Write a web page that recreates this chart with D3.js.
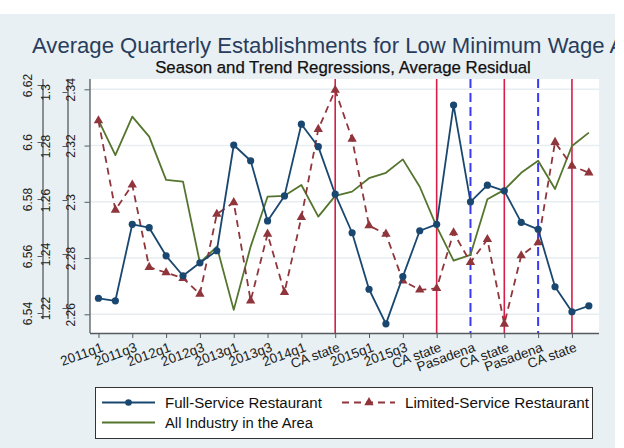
<!DOCTYPE html>
<html>
<head>
<meta charset="utf-8">
<script src="https://cdn.jsdelivr.net/npm/d3@7"></script>
<style>
  html, body { margin: 0; padding: 0; background: #ffffff; }
  svg { display: block; font-family: "Liberation Sans", Arial, sans-serif; }
</style>
</head>
<body>
<svg id="chart" width="624" height="448"></svg>
<script>
// Quarters 2011q1 .. 2018q2
const quarters = [
  "2011q1","2011q2","2011q3","2011q4","2012q1","2012q2","2012q3","2012q4",
  "2013q1","2013q2","2013q3","2013q4","2014q1","2014q2","2014q3","2014q4",
  "2015q1","2015q2","2015q3","2015q4","2016q1","2016q2","2016q3","2016q4",
  "2017q1","2017q2","2017q3","2017q4","2018q1","2018q2"
];

// x-axis tick labels (every second quarter); policy dates replace the quarter name
const tickIndex = [0, 2, 4, 6, 8, 10, 12, 14, 16, 18, 20, 22, 24, 26, 28];
const tickLabels = ["2011q1","2011q3","2012q1","2012q3","2013q1","2013q3","2014q1",
  "CA state","2015q1","2015q3","CA state","Pasadena","CA state","Pasadena","CA state"];

// minimum wage increases (quarter index)
const caStateChanges = [14, 20, 24, 28];
const pasadenaChanges = [22, 26];

// average residuals, log establishments
const fullService = [
  2.2657, 2.2648, 2.2920, 2.2908, 2.2808, 2.2737, 2.2783, 2.2826, 2.3202, 2.3146,
  2.2932, 2.3021, 2.3276, 2.3196, 2.3027, 2.2890, 2.2689, 2.2566, 2.2734, 2.2897,
  2.2920, 2.3344, 2.3000, 2.3059, 2.3039, 2.2927, 2.2902, 2.2698, 2.2609, 2.2630
];
const limitedService = [
  1.2894, 1.2563, 1.2656, 1.2351, 1.2331, 1.2310, 1.2252, 1.2548, 1.2591, 1.2227,
  1.2474, 1.2258, 1.2536, 1.2862, 1.3007, 1.2826, 1.2505, 1.2474, 1.2301, 1.2267,
  1.2273, 1.2479, 1.2369, 1.2454, 1.2141, 1.2394, 1.2442, 1.2814, 1.2726, 1.2701
];
const allIndustry = [
  6.6077, 6.5954, 6.6089, 6.6019, 6.5867, 6.5861, 6.5576, 6.5633, 6.5411, 6.5633,
  6.5808, 6.5811, 6.5849, 6.5738, 6.5811, 6.5826, 6.5873, 6.5892, 6.5939, 6.5843,
  6.5703, 6.5584, 6.5604, 6.5799, 6.5832, 6.5892, 6.5934, 6.5835, 6.5986, 6.6033
];

const fullTicks = [2.26, 2.28, 2.30, 2.32, 2.34];
const limitedTicks = [1.22, 1.24, 1.26, 1.28, 1.30];
const allTicks = [6.54, 6.56, 6.58, 6.60, 6.62];

const svg = d3.select("#chart");
const W = 624, H = 448;
const plot = { left: 90, right: 599, top: 79, bottom: 333 };

const colFull = "#1a476f", colLim = "#90353b", colAll = "#55752f";
const colCA = "#d81e48", colPas = "#3a3af2", bg = "#e9f0f3", axisCol = "#555a5e";
const font = '"Liberation Sans", Arial, sans-serif';

// graph background (clipped on the right edge)
svg.append("rect").attr("x", 0).attr("y", 14).attr("width", 615).attr("height", H - 14).attr("fill", bg);
svg.append("clipPath").attr("id", "gclip").append("rect").attr("x", 0).attr("y", 0).attr("width", 615).attr("height", H);

const x = d3.scaleLinear().domain([-0.5, 29.6]).range([plot.left, plot.right]);
const yFull = d3.scaleLinear().domain([2.26, 2.34]).range([314.3, 89.3]);
const yLim = d3.scaleLinear().domain([1.22, 1.30]).range([308, 92]);
const yAll = d3.scaleLinear().domain([6.54, 6.62]).range([313, 85]);

// fit text to a given width by adjusting font size
function fitText(sel, width) {
  const fs = parseFloat(sel.attr("font-size"));
  const w = sel.node().getComputedTextLength();
  sel.attr("font-size", (fs * width / w).toFixed(2));
  return sel;
}

// titles
const g = svg.append("g").attr("clip-path", "url(#gclip)");
const title = g.append("text").attr("x", 32).attr("y", 53).attr("font-size", 20)
  .attr("fill", "#283d5c").text("Average Quarterly Establishments for Low Minimum Wage ");
fitText(title, 573);
title.text("Average Quarterly Establishments for Low Minimum Wage A");

const sub = g.append("text").attr("x", 343).attr("y", 73).attr("text-anchor", "middle")
  .attr("font-size", 14).attr("fill", "#111").attr("stroke", "#111").attr("stroke-width", 0.25)
  .text("Season and Trend Regressions, Average Residual");
fitText(sub, 376);

// plot region
svg.append("rect").attr("x", plot.left).attr("y", plot.top)
  .attr("width", plot.right - plot.left).attr("height", plot.bottom - plot.top).attr("fill", "#ffffff");

// horizontal grid lines
svg.append("g").selectAll("line").data(fullTicks).join("line")
  .attr("x1", plot.left).attr("x2", plot.right)
  .attr("y1", d => yFull(d)).attr("y2", d => yFull(d))
  .attr("stroke", "#e6eef1").attr("stroke-width", 1.5);

// policy change lines
svg.append("g").selectAll("line").data(caStateChanges).join("line")
  .attr("x1", d => x(d)).attr("x2", d => x(d)).attr("y1", plot.top).attr("y2", plot.bottom)
  .attr("stroke", colCA).attr("stroke-width", 1.6);
svg.append("g").selectAll("line").data(pasadenaChanges).join("line")
  .attr("x1", d => x(d)).attr("x2", d => x(d)).attr("y1", plot.top).attr("y2", plot.bottom)
  .attr("stroke", colPas).attr("stroke-width", 2).attr("stroke-dasharray", "9,5");

// series
const idx = d3.range(quarters.length);
const lineOf = (arr, y) => d3.line().x(i => x(i)).y(i => y(arr[i]))(idx);

svg.append("path").attr("d", lineOf(allIndustry, yAll)).attr("fill", "none")
  .attr("stroke", colAll).attr("stroke-width", 1.8).attr("stroke-linejoin", "round");

svg.append("path").attr("d", lineOf(limitedService, yLim)).attr("fill", "none")
  .attr("stroke", colLim).attr("stroke-width", 1.8).attr("stroke-dasharray", "7,5");
const tri = d3.symbol().type(d3.symbolTriangle).size(38);
svg.append("g").selectAll("path").data(idx).join("path")
  .attr("d", tri).attr("transform", i => `translate(${x(i)},${yLim(limitedService[i])})`)
  .attr("fill", colLim);

svg.append("path").attr("d", lineOf(fullService, yFull)).attr("fill", "none")
  .attr("stroke", colFull).attr("stroke-width", 1.8).attr("stroke-linejoin", "round");
svg.append("g").selectAll("circle").data(idx).join("circle")
  .attr("cx", i => x(i)).attr("cy", i => yFull(fullService[i])).attr("r", 3.6)
  .attr("fill", colFull);

// x axis
const xAxis = d3.axisBottom(x).tickValues(tickIndex).tickSize(5).tickSizeOuter(0)
  .tickFormat((d, i) => tickLabels[i]);
const gx = svg.append("g").attr("transform", `translate(0,${plot.bottom})`).call(xAxis);
gx.select(".domain").attr("stroke", axisCol).attr("stroke-width", 1.3)
  .attr("d", `M${plot.left},0.5H${plot.right}`);
gx.selectAll(".tick line").attr("stroke", axisCol);
gx.selectAll(".tick text")
  .attr("font-size", 13.5).attr("fill", "#222").attr("font-family", font)
  .attr("text-anchor", "end").attr("dy", null).attr("y", 0)
  .attr("transform", "translate(5,18) rotate(-20)");

// three stacked y axes on the left
function yAxisAt(scale, ticks, xPos, labelOffset) {
  const ax = d3.axisLeft(scale).tickValues(ticks).tickSize(5).tickSizeOuter(0)
    .tickFormat(d3.format("~g"));
  const ga = svg.append("g").attr("transform", `translate(${xPos},0)`).call(ax);
  ga.select(".domain").attr("stroke", axisCol).attr("stroke-width", 1.3)
    .attr("d", `M0.5,${plot.top}V${plot.bottom - 14}`);
  ga.selectAll(".tick line").attr("stroke", axisCol);
  ga.selectAll(".tick text").attr("font-size", 12).attr("fill", "#222")
    .attr("font-family", font)
    .attr("x", null).attr("dy", null).attr("text-anchor", "middle")
    .attr("transform", `translate(${-labelOffset},0) rotate(-90)`);
  return ga;
}
yAxisAt(yAll, allTicks, 42.5, 11);
yAxisAt(yLim, limitedTicks, 67.5, 18);
const ga3 = yAxisAt(yFull, fullTicks, 89.5, 15);
ga3.select(".domain").attr("d", `M0.5,${plot.top}V${plot.bottom}`);

// legend
const lg = svg.append("g");
lg.append("rect").attr("x", 95.5).attr("y", 387.5).attr("width", 497).attr("height", 51)
  .attr("fill", "#ffffff").attr("stroke", "#333").attr("stroke-width", 1);
const legendItems = [
  { label: "Full-Service Restaurant", color: colFull, x0: 102, y: 402.5, dash: null, marker: "circle", w: 157 },
  { label: "Limited-Service Restaurant", color: colLim, x0: 342, y: 402.5, dash: "7,5", marker: "triangle", w: 184 },
  { label: "All Industry in the Area", color: colAll, x0: 102, y: 422.5, dash: null, marker: null, w: 148 }
];
legendItems.forEach(it => {
  lg.append("line").attr("x1", it.x0).attr("x2", it.x0 + 53).attr("y1", it.y).attr("y2", it.y)
    .attr("stroke", it.color).attr("stroke-width", 1.8).attr("stroke-dasharray", it.dash);
  if (it.marker === "circle") {
    lg.append("circle").attr("cx", it.x0 + 26.5).attr("cy", it.y).attr("r", 3.3).attr("fill", it.color);
  } else if (it.marker === "triangle") {
    lg.append("path").attr("d", tri).attr("transform", `translate(${it.x0 + 27},${it.y})`).attr("fill", it.color);
  }
  const t = lg.append("text").attr("x", it.x0 + 63).attr("y", it.y + 5).attr("font-size", 14)
    .attr("fill", "#111").text(it.label);
  fitText(t, it.w);
});
</script>
</body>
</html>
